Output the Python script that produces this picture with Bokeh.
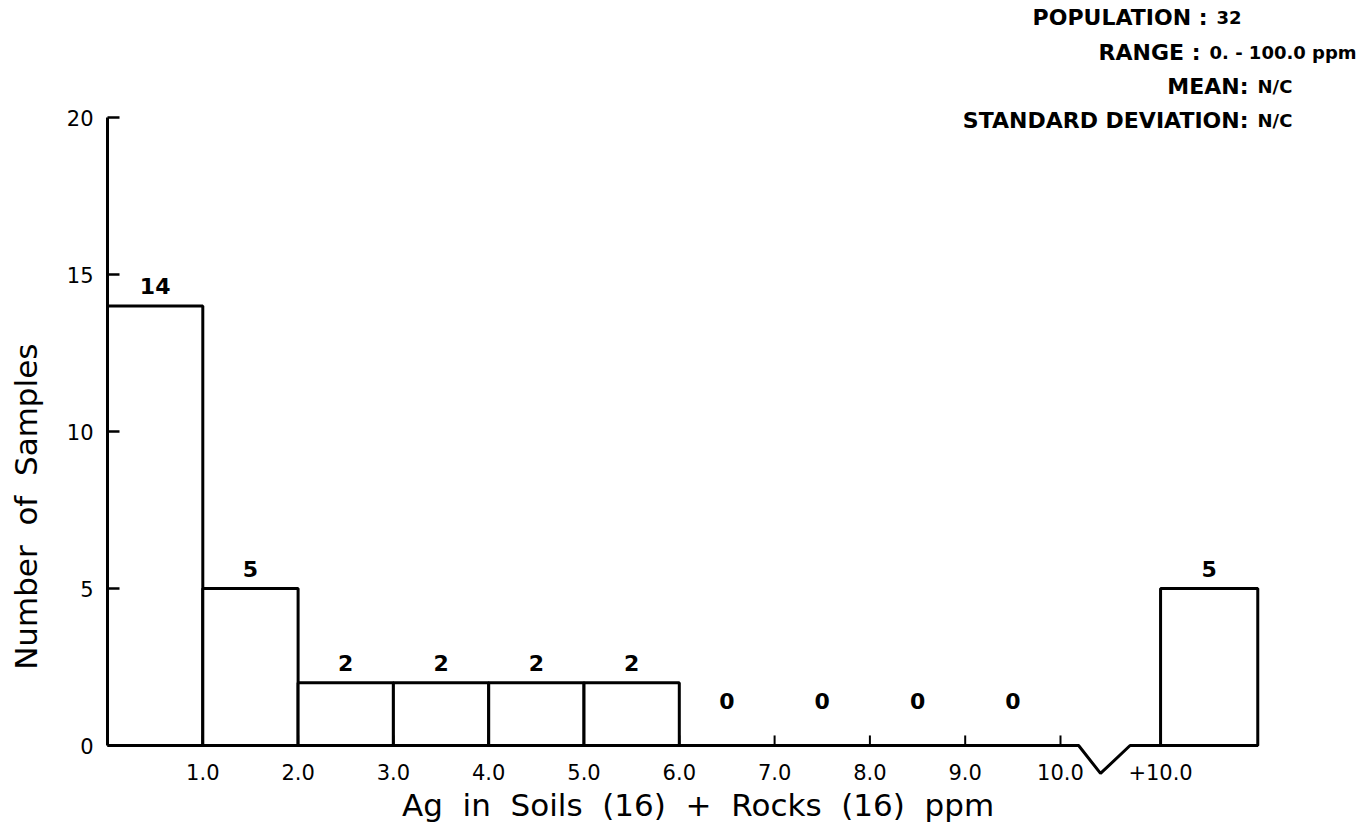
from bokeh.plotting import figure
from bokeh.models import Range1d, FixedTicker, ColumnDataSource
from bokeh.core.properties import value
from bokeh.embed import file_html
from bokeh.resources import INLINE

# ---- data ----
bin_left = [0, 1, 2, 3, 4, 5, 6, 7, 8, 9]
bin_right = [1, 2, 3, 4, 5, 6, 7, 8, 9, 10]
counts = [14, 5, 2, 2, 2, 2, 0, 0, 0, 0]
over_left = 11.05
over_right = 12.07
over_count = 5
over_tick_label = "+10.0"
x_ticks = [1, 2, 3, 4, 5, 6, 7, 8, 9, 10]
x_tick_labels = ["1.0", "2.0", "3.0", "4.0", "5.0", "6.0", "7.0", "8.0", "9.0", "10.0"]
y_ticks = [0, 5, 10, 15, 20]
stat_names = ["POPULATION :", "RANGE :", "MEAN:", "STANDARD DEVIATION:"]
stat_values = ["32", "0. - 100.0 ppm", "N/C", "N/C"]
x_title = "Ag in Soils (16) + Rocks (16) ppm"
y_title = "Number of Samples"
# axis-break decoration of the baseline
break_x = [0, 10.19, 10.42, 10.73, over_right]
break_y = [0, 0, -0.89, 0, 0]

# ---- layout (pixel geometry) ----
W, H = 1367, 834
LEFT = 107          # px of x = 0
PX_X = 95.3         # px per x unit
BASE = 745          # px of y = 0
PX_Y = 31.4         # px per y unit
FRAME_BOTTOM = 776
NB = "\u00a0"

def dx(px):
    return (px - LEFT) / PX_X

def dy(py):
    return (BASE - py) / PX_Y

def spaced(s, pad_end=0):
    # wider word gaps (non-collapsing), optional trailing padding to shift centre
    return s.replace(" ", NB + " ") + NB * pad_end

FONT = "DejaVu Sans"

p = figure(width=W, height=H, output_backend="svg", toolbar_location=None,
           x_range=Range1d(0, (W - LEFT) / PX_X),
           y_range=Range1d(-(FRAME_BOTTOM - BASE) / PX_Y, BASE / PX_Y),
           min_border_left=LEFT, min_border_right=0, min_border_top=0,
           min_border_bottom=H - FRAME_BOTTOM)
p.outline_line_color = None
p.grid.visible = False
p.background_fill_color = "white"
p.border_fill_color = "white"

# bars
all_left = bin_left + [over_left]
all_right = bin_right + [over_right]
all_counts = counts + [over_count]
src = ColumnDataSource(dict(left=all_left, right=all_right, top=all_counts,
                            bottom=[0] * len(all_counts)))
p.quad(left="left", right="right", top="top", bottom="bottom", source=src,
       fill_color="white", line_color="black", line_width=3)

# baseline with break
p.line(break_x, break_y, line_color="black", line_width=3)

# small x tick marks on baseline
p.segment(x0=x_ticks, y0=[0] * len(x_ticks), x1=x_ticks, y1=[0.32] * len(x_ticks),
          line_color="black", line_width=2)

# count labels
lab_x = [(l + r) / 2 for l, r in zip(all_left, all_right)]
lab_y = [c + 0.62 if c > 0 else 1.43 for c in all_counts]
lab_t = [str(c) for c in all_counts]
p.text(x=lab_x, y=lab_y, text=lab_t, text_align="center", text_baseline="middle",
       text_font=value(FONT), text_font_size="22px", text_font_style="bold",
       text_color="black")

# statistics block (top right)
name_px = [1207, 1200, 1248, 1248]
val_px = [1216, 1209, 1257, 1257]
row_py = [17, 52, 86, 120]
p.text(x=[dx(v) for v in name_px], y=[dy(v) for v in row_py],
       text=stat_names, text_align="right", text_baseline="middle",
       text_font=value(FONT), text_font_size="22px", text_font_style="bold",
       text_color="black")
p.text(x=[dx(v) for v in val_px], y=[dy(v) for v in row_py],
       text=stat_values, text_align="left", text_baseline="middle",
       text_font=value(FONT), text_font_size="18px", text_font_style="bold",
       text_color="black")

# x axis (labels only; baseline is drawn above)
xa = p.xaxis[0]
xa.ticker = FixedTicker(ticks=x_ticks + [over_left])
overrides = {t: s for t, s in zip(x_ticks, x_tick_labels)}
overrides[over_left] = over_tick_label
xa.major_label_overrides = overrides
xa.axis_line_color = None
xa.major_tick_in = 0
xa.major_tick_out = 0
xa.minor_tick_line_color = None
xa.major_label_standoff = -13
xa.major_label_text_font = FONT
xa.major_label_text_font_size = "21px"
xa.major_label_text_color = "black"
xa.axis_label = spaced(x_title, pad_end=8)
xa.axis_label_text_font = FONT
xa.axis_label_text_font_size = "31px"
xa.axis_label_text_font_style = "normal"
xa.axis_label_text_color = "black"
xa.axis_label_standoff = 4

# y axis
ya = p.yaxis[0]
ya.ticker = FixedTicker(ticks=y_ticks)
ya.bounds = (0, 20)
ya.axis_line_color = "black"
ya.axis_line_width = 3
ya.major_tick_in = 12
ya.major_tick_out = 0
ya.major_tick_line_width = 2.5
ya.major_tick_line_color = "black"
ya.minor_tick_line_color = None
ya.major_label_standoff = 14
ya.major_label_text_font = FONT
ya.major_label_text_font_size = "21px"
ya.major_label_text_color = "black"
ya.axis_label = spaced(y_title, pad_end=24)
ya.axis_label_text_font = FONT
ya.axis_label_text_font_size = "31px"
ya.axis_label_text_font_style = "normal"
ya.axis_label_text_color = "black"
ya.axis_label_standoff = 20

open("out.html", "w").write(file_html(p, INLINE))
